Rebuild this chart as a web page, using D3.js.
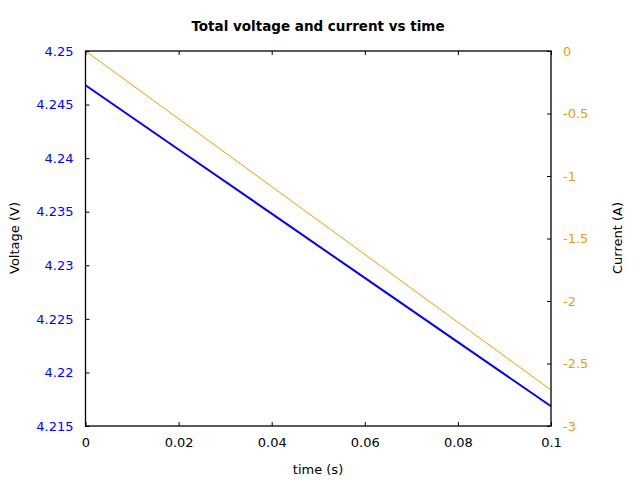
<!DOCTYPE html>
<html>
<head>
<meta charset="utf-8">
<script src="https://cdn.jsdelivr.net/npm/d3@7"></script>
<style>
  body { margin: 0; background: #fff; }
  svg { font-family: "DejaVu Sans", sans-serif; }
</style>
</head>
<body>
<svg id="chart" width="640" height="480"></svg>
<script>
// values
const time = [0, 0.02, 0.04, 0.06, 0.08, 0.1];
const voltage = [4.2468, 4.24081, 4.23482, 4.22882, 4.22283, 4.21684];
const current = [0, -0.5424, -1.0848, -1.6272, -2.1696, -2.712];
const xTicks = [0, 0.02, 0.04, 0.06, 0.08, 0.1];
const vTicks = [4.215, 4.22, 4.225, 4.23, 4.235, 4.24, 4.245, 4.25];
const iTicks = [-3, -2.5, -2, -1.5, -1, -0.5, 0];

const plotL = 85.5, plotR = 551, plotT = 51, plotB = 426;
const blue = '#0000ff', orange = '#eaa000';

const svg = d3.select('#chart');

const x = d3.scaleLinear().domain([0, 0.1]).range([plotL, plotR]);
const yV = d3.scaleLinear().domain([4.215, 4.25]).range([plotB, plotT]);
const yI = d3.scaleLinear().domain([-3, 0]).range([plotB, plotT]);

// axes with inward ticks
const fmt = d => String(+d.toFixed(4));

svg.append('g')
  .attr('transform', `translate(0,${plotB})`)
  .call(d3.axisBottom(x).tickValues(xTicks).tickSize(-4).tickPadding(12).tickFormat(fmt))
  .call(g => g.select('.domain').remove())
  .call(g => g.selectAll('text').attr('font-size', 13).attr('fill', '#000').attr('font-family', 'DejaVu Sans'));

svg.append('g')
  .attr('transform', `translate(0,${plotT})`)
  .call(d3.axisTop(x).tickValues(xTicks).tickSize(-4).tickFormat(''))
  .call(g => g.select('.domain').remove());

svg.append('g')
  .attr('transform', `translate(${plotL},0)`)
  .call(d3.axisLeft(yV).tickValues(vTicks).tickSize(-4).tickPadding(12).tickFormat(fmt))
  .call(g => g.select('.domain').remove())
  .call(g => g.selectAll('text').attr('font-size', 13).attr('fill', blue).attr('font-family', 'DejaVu Sans'));

svg.append('g')
  .attr('transform', `translate(${plotR},0)`)
  .call(d3.axisRight(yI).tickValues(iTicks).tickSize(-4).tickPadding(12).tickFormat(fmt))
  .call(g => g.select('.domain').remove())
  .call(g => g.selectAll('text').attr('font-size', 13).attr('fill', orange).attr('font-family', 'DejaVu Sans'));

svg.selectAll('.tick line').attr('stroke', '#000');

// lines
svg.append('path')
  .datum(d3.zip(time, current))
  .attr('fill', 'none')
  .attr('stroke', orange)
  .attr('stroke-width', 1)
  .attr('d', d3.line().x(d => x(d[0])).y(d => yI(d[1])));

svg.append('path')
  .datum(d3.zip(time, voltage))
  .attr('fill', 'none')
  .attr('stroke', blue)
  .attr('stroke-width', 2)
  .attr('d', d3.line().x(d => x(d[0])).y(d => yV(d[1])));

// frame
svg.append('rect')
  .attr('x', plotL).attr('y', plotT)
  .attr('width', plotR - plotL).attr('height', plotB - plotT)
  .attr('fill', 'none').attr('stroke', '#000').attr('stroke-width', 1.3);

// texts
svg.append('text')
  .attr('x', 318).attr('y', 31)
  .attr('text-anchor', 'middle').attr('font-size', 13.5).attr('font-weight', 'bold')
  .text('Total voltage and current vs time');

svg.append('text')
  .attr('x', 318).attr('y', 474)
  .attr('text-anchor', 'middle').attr('font-size', 13)
  .text('time (s)');

svg.append('text')
  .attr('transform', 'translate(19,238) rotate(-90)')
  .attr('text-anchor', 'middle').attr('font-size', 13)
  .text('Voltage (V)');

svg.append('text')
  .attr('transform', 'translate(622,238) rotate(-90)')
  .attr('text-anchor', 'middle').attr('font-size', 13)
  .text('Current (A)');
</script>
</body>
</html>
